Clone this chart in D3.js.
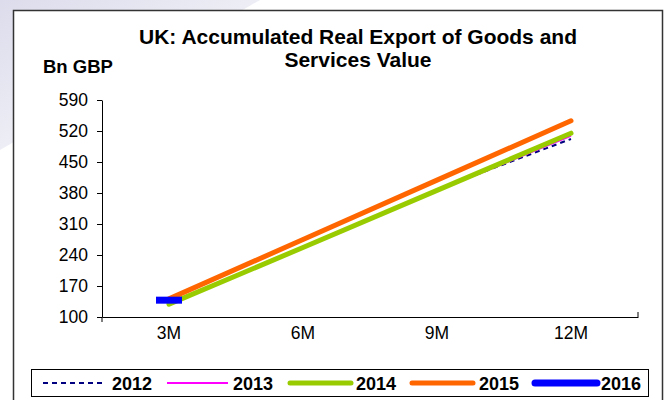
<!DOCTYPE html>
<html>
<head>
<meta charset="utf-8">
<script src="https://cdn.jsdelivr.net/npm/d3@7"></script>
<style>
  html, body { margin: 0; padding: 0; background: #fff; }
  svg { display: block; font-family: "Liberation Sans", Arial, sans-serif; }
</style>
</head>
<body>
<svg id="chart" width="669" height="400"></svg>
<script>
// Quarterly cumulative export values, Bn GBP
const categories = ["3M", "6M", "9M", "12M"];
const years = ["2012", "2013", "2014", "2015", "2016"];
const values2012 = [130, 256, 388, 502];
const values2013 = [130, 257, 385, 509];
const values2014 = [129, 257, 386, 515];
const values2015 = [141, 275, 409, 543];
const values2016 = [138];
const yTicks = [100, 170, 240, 310, 380, 450, 520, 590];

const seriesValues = [values2012, values2013, values2014, values2015, values2016];
const styles = {
  "2012": { color: "#000080", width: 2, dash: "5,4", cap: "butt" },
  "2013": { color: "#ff00ff", width: 2, dash: null, cap: "butt" },
  "2014": { color: "#99cc00", width: 5, dash: null, cap: "round" },
  "2015": { color: "#ff6600", width: 5, dash: null, cap: "round" },
  "2016": { color: "#0000ff", width: 7, dash: null, cap: "butt" }
};
const series = years.map((y, i) => ({ year: y, values: seriesValues[i] }));

const svg = d3.select("#chart");

// soft corner shading behind the frame
const defs = svg.append("defs");
const grad = defs.append("linearGradient").attr("id", "corner")
  .attr("x1", "0").attr("y1", "0").attr("x2", "1").attr("y2", "1");
grad.append("stop").attr("offset", "0%").attr("stop-color", "#dcdcec");
grad.append("stop").attr("offset", "100%").attr("stop-color", "#ffffff");
svg.append("path")
  .attr("d", "M0,0 L260,0 L0,150 Z")
  .attr("fill", "url(#corner)");

// chart frame
svg.append("path")
  .attr("d", "M13.5,420 L13.5,10.5 L662.5,10.5 L662.5,420")
  .attr("fill", "#fff")
  .attr("stroke", "#333")
  .attr("stroke-width", 1.5);

const x = d3.scaleBand().domain(categories).range([102, 638]).padding(0);
const y = d3.scaleLinear().domain([100, 590]).range([317, 100]);
const cx = c => x(c) + x.bandwidth() / 2;

// title
svg.append("text")
  .attr("x", 358).attr("y", 44)
  .attr("text-anchor", "middle")
  .attr("font-weight", "bold").attr("font-size", 21)
  .selectAll("tspan")
  .data(["UK: Accumulated Real Export of Goods and", "Services Value"])
  .join("tspan")
  .attr("x", 358)
  .attr("dy", (d, i) => i === 0 ? 0 : 23)
  .text(d => d);

svg.append("text")
  .attr("x", 43).attr("y", 73)
  .attr("font-weight", "bold").attr("font-size", 18.5)
  .text("Bn GBP");

// y axis
const yAxis = svg.append("g")
  .attr("transform", "translate(102,0)")
  .call(d3.axisLeft(y).tickValues(yTicks).tickSize(5).tickSizeOuter(0).tickPadding(9));
yAxis.select(".domain").attr("stroke", "#000");
yAxis.selectAll("text").attr("font-size", 17.5).attr("fill", "#000")
  .attr("font-family", "Liberation Sans, Arial, sans-serif");

// x axis
const xAxis = svg.append("g")
  .attr("transform", "translate(0,317)")
  .call(d3.axisBottom(x).tickSize(0).tickSizeOuter(0).tickPadding(10));
xAxis.select(".domain").attr("stroke", "#000");
xAxis.selectAll("text").attr("font-size", 17.5).attr("fill", "#000")
  .attr("font-family", "Liberation Sans, Arial, sans-serif");
// end ticks of the category axis
svg.append("line").attr("x1", 102).attr("x2", 102).attr("y1", 317).attr("y2", 322).attr("stroke", "#000");
svg.append("line").attr("x1", 638).attr("x2", 638).attr("y1", 312).attr("y2", 317).attr("stroke", "#000");

// series lines
const line = d3.line()
  .x((d, i) => cx(categories[i]))
  .y(d => y(d));

series.filter(s => s.values.length > 1).forEach(s => {
  const st = styles[s.year];
  svg.append("path")
    .datum(s.values)
    .attr("d", line)
    .attr("fill", "none")
    .attr("stroke", st.color)
    .attr("stroke-width", st.width)
    .attr("stroke-dasharray", st.dash)
    .attr("stroke-linecap", st.cap)
    .attr("stroke-linejoin", "round");
});

// single-point series shown as a short dash marker
series.filter(s => s.values.length === 1).forEach(s => {
  const st = styles[s.year];
  svg.append("line")
    .attr("x1", cx(categories[0]) - 13).attr("x2", cx(categories[0]) + 13)
    .attr("y1", y(s.values[0])).attr("y2", y(s.values[0]))
    .attr("stroke", st.color)
    .attr("stroke-width", st.width);
});

// legend
const legend = svg.append("g");
legend.append("rect")
  .attr("x", 31.5).attr("y", 369.5).attr("width", 617).attr("height", 27)
  .attr("fill", "#fff").attr("stroke", "#000").attr("stroke-width", 1);
const legendPos = [
  { x1: 43, x2: 105, tx: 112 },
  { x1: 167, x2: 228, tx: 233 },
  { x1: 290, x2: 351, tx: 356 },
  { x1: 412, x2: 473, tx: 479 },
  { x1: 535, x2: 597, tx: 601 }
];
years.forEach((yr, i) => {
  const st = styles[yr];
  const p = legendPos[i];
  legend.append("line")
    .attr("x1", p.x1).attr("x2", p.x2).attr("y1", 383).attr("y2", 383)
    .attr("stroke", st.color)
    .attr("stroke-width", st.width)
    .attr("stroke-dasharray", st.dash)
    .attr("stroke-linecap", yr === "2012" || yr === "2013" ? "butt" : "round");
  legend.append("text")
    .attr("x", p.tx).attr("y", 389.5)
    .attr("font-weight", "bold").attr("font-size", 18)
    .text(yr);
});
</script>
</body>
</html>
